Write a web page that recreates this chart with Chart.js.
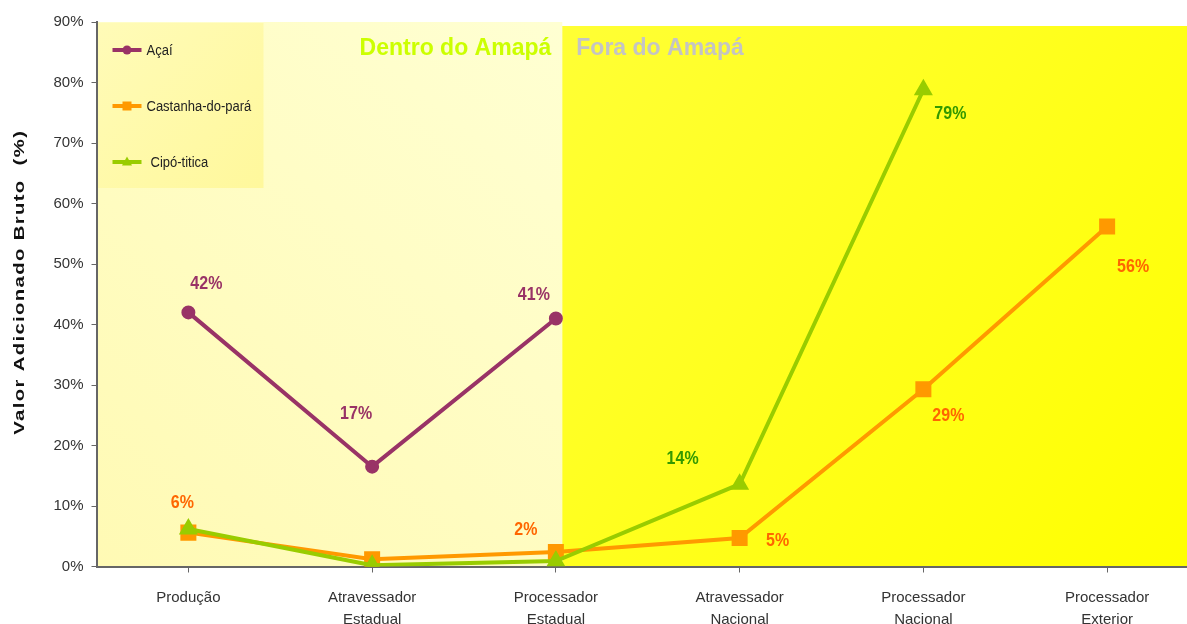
<!DOCTYPE html>
<html>
<head>
<meta charset="utf-8">
<script src="https://cdn.jsdelivr.net/npm/chart.js@4/dist/chart.umd.min.js"></script>
<style>
html, body { margin: 0; padding: 0; background: #fff; overflow: hidden; }
#wrap { width: 1187px; height: 624px; overflow: hidden; position: relative; }
#vab { position: absolute; left: 0; top: 0; }
</style>
</head>
<body>
<div id="wrap"><canvas id="vab" width="1199" height="624"></canvas></div>
<script>
// elos da cadeia
var categorias = [['Produção'], ['Atravessador', 'Estadual'], ['Processador', 'Estadual'],
  ['Atravessador', 'Nacional'], ['Processador', 'Nacional'], ['Processador', 'Exterior']];

// valor adicionado bruto (%)
var acai = [42, 16.5, 41, null, null, null];
var castanha = [5.6, 1.2, 2.4, 4.7, 29.3, 56.2];
var cipo = [6.2, 0.2, 0.9, 13.6, 78.8, null];

var yMin = 0, yMax = 90, yPasso = 10;

// rótulos: deslocamento do texto em relação ao ponto (null = sem rótulo)
var acaiRot = [[18, -28], [-16, -53], [-22, -24], null, null, null];
var castanhaRot = [[-6, -30], null, [-30, -22], [38, 3], [25, 27], [26, 40]];
var cipoRot = [null, null, null, [-57, -25], [27, 24], null];

var FONTE = "'Liberation Sans', Arial, sans-serif";
var divisao = 2.035; // onde termina "Dentro do Amapá" (em unidades de categoria)

function texto(ctx, s, x, y, font, color, sy, align, base) {
  ctx.save();
  ctx.font = font;
  ctx.fillStyle = color;
  ctx.textAlign = align || 'center';
  ctx.textBaseline = base || 'middle';
  ctx.translate(x, y);
  ctx.scale(1, sy || 1);
  ctx.fillText(s, 0, 0);
  ctx.restore();
}

var fundo = {
  id: 'fundo',
  beforeDraw: function (chart) {
    var ctx = chart.ctx, a = chart.chartArea;
    var xs = chart.scales.x.getPixelForValue(divisao);
    ctx.save();
    var g1 = ctx.createLinearGradient(a.left, a.bottom, xs, a.top);
    g1.addColorStop(0, '#fffab4');
    g1.addColorStop(1, '#ffffd2');
    ctx.fillStyle = g1;
    ctx.fillRect(a.left, a.top, xs - a.left, a.bottom - a.top);
    var g2 = ctx.createLinearGradient(xs, a.top, a.right, a.bottom);
    g2.addColorStop(0, '#ffff35');
    g2.addColorStop(1, '#ffff00');
    ctx.fillStyle = g2;
    ctx.fillRect(xs, a.top + 4, a.right - xs, a.bottom - a.top - 4);
    // caixa da legenda
    var g3 = ctx.createLinearGradient(a.left, a.top, a.left + 166, a.top + 165);
    g3.addColorStop(0, '#fffbb8');
    g3.addColorStop(1, '#fff89c');
    ctx.fillStyle = g3;
    ctx.fillRect(a.left + 1, a.top + 1, 166, 165);
    ctx.restore();
  }
};

function marcador(ctx, estilo, x, y, r, cor) {
  ctx.fillStyle = cor;
  ctx.beginPath();
  if (estilo === 'circle') {
    ctx.arc(x, y, r, 0, Math.PI * 2);
  } else if (estilo === 'rect') {
    ctx.rect(x - r, y - r, 2 * r, 2 * r);
  } else {
    ctx.moveTo(x, y - r * 1.1);
    ctx.lineTo(x + r, y + r * 0.7);
    ctx.lineTo(x - r, y + r * 0.7);
    ctx.closePath();
  }
  ctx.fill();
}

var extras = {
  id: 'extras',
  afterDatasetsDraw: function (chart) {
    var ctx = chart.ctx;
    // rótulos de dados
    chart.data.datasets.forEach(function (ds, i) {
      var meta = chart.getDatasetMeta(i);
      ds.rotulos.forEach(function (off, j) {
        if (!off || ds.data[j] == null) return;
        var p = meta.data[j];
        texto(ctx, Math.round(ds.data[j]) + '%', p.x + off[0], p.y + off[1],
          'bold 16px ' + FONTE, ds.corRotulo, 1.15);
      });
    });
  },
  afterDraw: function (chart) {
    var ctx = chart.ctx, a = chart.chartArea;
    var xs = chart.scales.x.getPixelForValue(divisao);
    // títulos das regiões
    texto(ctx, 'Dentro do Amapá', xs - 11, a.top + 33, 'bold 23px ' + FONTE, '#ccff00', 1, 'right', 'alphabetic');
    texto(ctx, 'Fora do Amapá', xs + 14, a.top + 33, 'bold 23px ' + FONTE, '#c4c4c4', 1, 'left', 'alphabetic');

    // legenda
    var itens = [
      { nome: 'Açaí', cor: '#993366', estilo: 'circle', r: 4.5, dx: 0 },
      { nome: 'Castanha-do-pará', cor: '#ff9900', estilo: 'rect', r: 4.5, dx: 0 },
      { nome: 'Cipó-titica', cor: '#99cc00', estilo: 'triangle', r: 5, dx: 4 }
    ];
    itens.forEach(function (it, k) {
      var y = a.top + 28 + k * 56;
      ctx.save();
      ctx.strokeStyle = it.cor;
      ctx.lineWidth = 4;
      ctx.beginPath();
      ctx.moveTo(a.left + 16, y);
      ctx.lineTo(a.left + 45, y);
      ctx.stroke();
      marcador(ctx, it.estilo, a.left + 30.5, y, it.r, it.cor);
      ctx.restore();
      texto(ctx, it.nome, a.left + 50 + it.dx, y + 1, '13px ' + FONTE, '#222', 1.15, 'left');
    });

    // título do eixo y
    ctx.save();
    ctx.translate(20, (a.top + a.bottom) / 2 - 12);
    ctx.rotate(-Math.PI / 2);
    ctx.font = 'bold 15px ' + FONTE;
    try { ctx.letterSpacing = '1px'; } catch (e) {}
    var t = 'Valor Adicionado Bruto  (%)';
    var w = ctx.measureText(t).width;
    ctx.scale(305 / w, 1);
    ctx.fillStyle = '#111';
    ctx.textAlign = 'center';
    ctx.textBaseline = 'middle';
    ctx.fillText(t, 0, 0);
    ctx.restore();
  }
};

Chart.defaults.font.family = FONTE;

var ctx = document.getElementById('vab').getContext('2d');
var vabChart = new Chart(ctx, {
  type: 'line',
  data: {
    labels: categorias,
    datasets: [
      { label: 'Açaí', data: acai, borderColor: '#993366', backgroundColor: '#993366',
        pointStyle: 'circle', pointRadius: 5, borderWidth: 4, order: 2,
        rotulos: acaiRot, corRotulo: '#993366' },
      { label: 'Castanha-do-pará', data: castanha, borderColor: '#ff9900', backgroundColor: '#ff9900',
        pointStyle: 'rect', pointRadius: 8.5, borderWidth: 4, order: 1,
        rotulos: castanhaRot, corRotulo: '#ff6600' },
      { label: 'Cipó-titica', data: cipo, borderColor: '#99cc00', backgroundColor: '#99cc00',
        pointStyle: 'triangle', pointRadius: 7, borderWidth: 4, order: 0,
        rotulos: cipoRot, corRotulo: '#339900' }
    ]
  },
  options: {
    responsive: false,
    animation: false,
    devicePixelRatio: 1,
    layout: { autoPadding: false, padding: { top: 22, left: 0, right: 0, bottom: 0 } },
    elements: { line: { tension: 0 }, point: { borderWidth: 0, hoverRadius: 5 } },
    plugins: { legend: { display: false }, tooltip: { enabled: false } },
    scales: {
      x: {
        offset: true,
        grid: { drawOnChartArea: false, drawTicks: true, tickLength: 6, color: '#666' },
        border: { display: true, color: '#666', width: 2 },
        ticks: { color: '#333', font: { size: 15, lineHeight: 1.5 }, padding: 14, maxRotation: 0, autoSkip: false },
        afterFit: function (s) { s.height = 57.5; }
      },
      y: {
        min: yMin, max: yMax,
        grid: { drawOnChartArea: false, drawTicks: true, tickLength: 5, color: '#666' },
        border: { display: true, color: '#666', width: 2 },
        ticks: { stepSize: yPasso, color: '#333', font: { size: 15 }, padding: 8,
          callback: function (v) { return v + '%'; } },
        afterFit: function (s) { s.width = 96.5; }
      }
    }
  },
  plugins: [fundo, extras]
});
</script>
</body>
</html>
